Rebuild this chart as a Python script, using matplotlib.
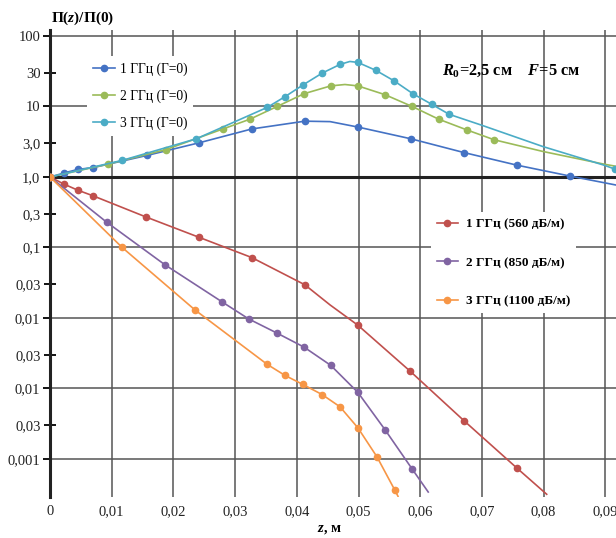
import numpy as np
import matplotlib
matplotlib.use('Agg')
import matplotlib.pyplot as plt
import matplotlib.ticker as ticker

plt.rcParams['font.family'] = ['Liberation Serif', 'DejaVu Serif']
plt.rcParams['mathtext.fontset'] = 'custom'
plt.rcParams['mathtext.it'] = 'Liberation Serif:italic:bold'
plt.rcParams['mathtext.rm'] = 'Liberation Serif:bold'
plt.rcParams['mathtext.bf'] = 'Liberation Serif:bold'

# Values (z in metres, П(z)/П(0))
# Upper group: no absorption (Г=0)
z_1g0 = [0, 0.0023, 0.0045, 0.0070, 0.0157, 0.0242, 0.0327, 0.0413, 0.0454, 0.0499,
         0.0585, 0.0671, 0.0757, 0.0843, 0.0917]
p_1g0 = [1.0, 1.14, 1.28, 1.36, 2.02, 3.06, 4.80, 6.19, 6.1, 5.11,
         3.48, 2.22, 1.47, 1.03, 0.77]
mk_1g0 = [0, 1, 2, 3, 4, 5, 6, 7, 9, 10, 11, 12, 13]

z_2g0 = [0, 0.0094, 0.0188, 0.0280, 0.0324, 0.0368, 0.0412, 0.0455, 0.0478, 0.0499,
         0.0543, 0.0587, 0.0630, 0.0676, 0.0720, 0.0799, 0.0898, 0.0917]
p_2g0 = [1.0, 1.52, 2.45, 4.79, 6.6, 10.0, 15.2, 19.6, 20.5, 19.6,
         14.7, 10.0, 6.6, 4.64, 3.37, 2.30, 1.52, 1.42]
mk_2g0 = [0, 1, 2, 3, 4, 5, 6, 7, 9, 10, 11, 12, 13, 14]

z_3g0 = [0, 0.0117, 0.0237, 0.0352, 0.0381, 0.0410, 0.0441, 0.0470, 0.0486, 0.0499,
         0.0528, 0.0558, 0.0588, 0.0619, 0.0647, 0.0699, 0.0799, 0.0898, 0.0916]
p_3g0 = [1.0, 1.72, 3.48, 9.7, 13.8, 20.2, 29.7, 39.5, 43.5, 42.2,
         32.6, 23.0, 15.2, 10.7, 7.74, 5.45, 2.70, 1.47, 1.29]
mk_3g0 = [0, 1, 2, 3, 4, 5, 6, 7, 9, 10, 11, 12, 13, 14, 18]

# Lower group: with absorption
z_1ga = [0, 0.0023, 0.0045, 0.0070, 0.0156, 0.0242, 0.0327, 0.0413, 0.0454, 0.0499,
         0.0584, 0.0671, 0.0757, 0.0805]
p_1ga = [1.0, 0.79, 0.65, 0.54, 0.27, 0.139, 0.072, 0.0296, 0.0153, 0.0079,
         1.75e-3, 3.49e-4, 7.4e-5, 3.16e-5]
mk_1ga = [0, 1, 2, 3, 4, 5, 6, 7, 9, 10, 11, 12]

z_2ga = [0, 0.0092, 0.0186, 0.0279, 0.0322, 0.0368, 0.0412, 0.0455, 0.0499, 0.0543,
         0.0587, 0.0613]
p_2ga = [1.0, 0.228, 0.0571, 0.0169, 0.0097, 6.1e-3, 3.85e-3, 2.13e-3, 8.8e-4, 2.6e-4,
         7.2e-5, 3.4e-5]
mk_2ga = list(range(11))

z_3ga = [0, 0.0117, 0.0235, 0.0352, 0.0381, 0.0410, 0.0441, 0.0470, 0.0499, 0.0530,
         0.0559, 0.0564]
p_3ga = [1.0, 0.1, 0.013, 2.2e-3, 1.53e-3, 1.14e-3, 8.2e-4, 5.5e-4, 2.77e-4, 1.07e-4,
         3.6e-5, 2.96e-5]
mk_3ga = list(range(11))

labels_top = ['1 ГГц (Г=0)', '2 ГГц (Г=0)', '3 ГГц (Г=0)']
labels_bot = ['1 ГГц (560 дБ/м)', '2 ГГц (850 дБ/м)', '3 ГГц (1100 дБ/м)']

xtick_vals = [0, 0.01, 0.02, 0.03, 0.04, 0.05, 0.06, 0.07, 0.08, 0.09]
xtick_labels = ['0', '0,01', '0,02', '0,03', '0,04', '0,05', '0,06', '0,07', '0,08', '0,09']
ymaj_vals = [100, 10, 1, 0.1, 0.01, 1e-3, 1e-4]
ymaj_labels = ['100', '10', '1,0', '0,1', '0,01', '0,01', '0,001']
ymin_vals = [30, 3, 0.3, 0.03, 3e-3, 3e-4]
ymin_labels = ['30', '3,0', '0,3', '0,03', '0,03', '0,03']

fig = plt.figure(figsize=(6.16, 5.38), dpi=100)
ax = fig.add_axes([50/616, 41/538, 566/616, 467/538])

c_top = ['#4472C4', '#9BBB59', '#4BACC6']
c_bot = ['#C0504D', '#8064A2', '#F79646']

h_top = []
for z, p, mk, c, lab in zip([z_1g0, z_2g0, z_3g0], [p_1g0, p_2g0, p_3g0],
                            [mk_1g0, mk_2g0, mk_3g0], c_top, labels_top):
    h, = ax.plot(z, p, '-o', color=c, lw=1.2, ms=4.5, markevery=mk, label=lab, zorder=3)
    h_top.append(h)
h_bot = []
for z, p, mk, c, lab in zip([z_1ga, z_2ga, z_3ga], [p_1ga, p_2ga, p_3ga],
                            [mk_1ga, mk_2ga, mk_3ga], c_bot, labels_bot):
    h, = ax.plot(z, p, '-o', color=c, lw=1.2, ms=4.5, markevery=mk, label=lab, zorder=3)
    h_bot.append(h)

ax.set_yscale('log')
ax.set_xlim(0, 566/6170)
ax.set_ylim(2.89e-5, 121.6)

ax.xaxis.set_major_locator(ticker.FixedLocator(xtick_vals))
ax.xaxis.set_major_formatter(ticker.FixedFormatter(xtick_labels))
ax.yaxis.set_major_locator(ticker.FixedLocator(ymaj_vals))
ax.yaxis.set_major_formatter(ticker.FixedFormatter(ymaj_labels))
ax.yaxis.set_minor_locator(ticker.FixedLocator(ymin_vals))
ax.yaxis.set_minor_formatter(ticker.FixedFormatter(ymin_labels))

ax.tick_params(axis='x', length=0, pad=6, labelsize=10.5, labelcolor='#222222')
ax.tick_params(axis='y', which='major', direction='out', length=5, width=1.3,
               pad=2, labelsize=10.5, labelcolor='#222222')
ax.tick_params(axis='y', which='minor', direction='inout', length=9, width=1.3,
               pad=2, labelsize=10.5, labelcolor='#222222')

ax.set_axisbelow(True)
ax.grid(True, which='major', color='#555555', lw=1.1)
ax.axhline(1, color='#222222', lw=2.2, zorder=2)
for s in ['top', 'right', 'bottom']:
    ax.spines[s].set_visible(False)
ax.spines['left'].set_linewidth(2.2)
ax.spines['left'].set_color('#222222')

leg1 = ax.legend(handles=h_top, loc='upper left', bbox_to_anchor=(87/616, 1 - 56/538),
                 bbox_transform=fig.transFigure, fontsize=9.8, frameon=True,
                 facecolor='white', edgecolor='none', framealpha=1, fancybox=False,
                 handlelength=1.6, handletextpad=0.35, labelspacing=1.0,
                 borderpad=0.45, borderaxespad=0)
ax.add_artist(leg1)
ax.legend(handles=h_bot, loc='upper left', bbox_to_anchor=(431/616, 1 - 212/538),
          bbox_transform=fig.transFigure, frameon=True,
          facecolor='white', edgecolor='none', framealpha=1, fancybox=False,
          handlelength=1.6, handletextpad=0.6, labelspacing=2.0,
          borderpad=0.45, borderaxespad=0, prop={'size': 9.5, 'weight': 'bold'})

fig.text(51/616, 1 - 18/538, 'П($z$)/П(0)', fontsize=11, fontweight='bold',
         va='center', ha='left')
fig.text(317/616, 1 - 530/538, '$z$, м', fontsize=10.5, fontweight='bold',
         va='center', ha='left')
fig.text(442/616, 1 - 71/538, '$R_0$=2,5 см    $F$=5 см', fontsize=11.8,
         fontweight='bold', va='center', ha='left')

fig.savefig('out.png', dpi=100)
